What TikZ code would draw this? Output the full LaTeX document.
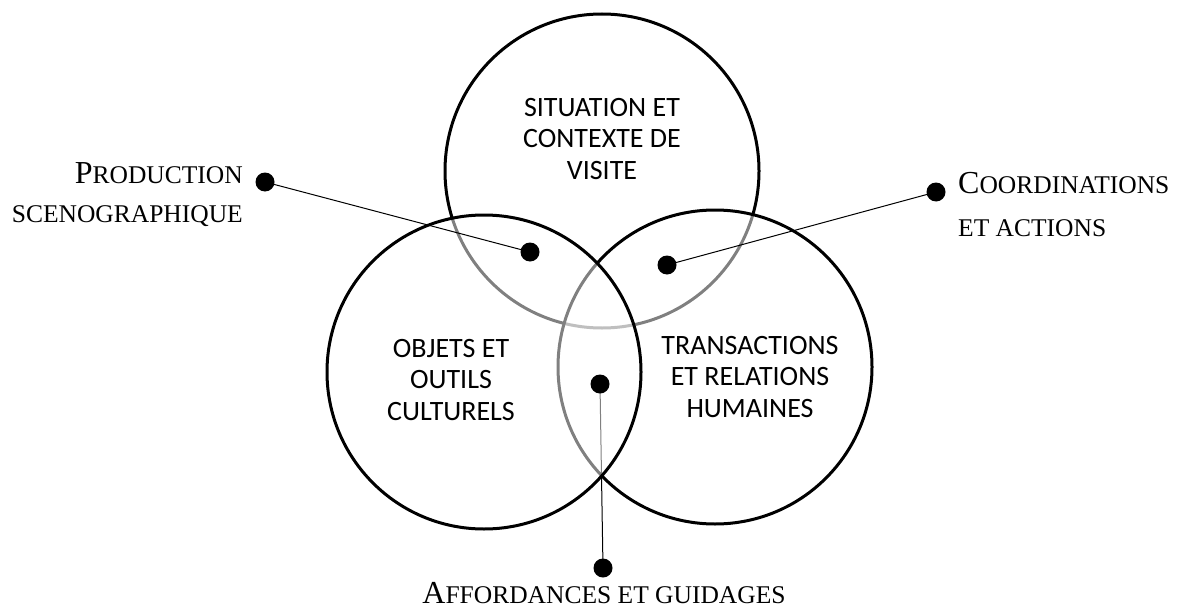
\documentclass[tikz,border=0pt]{standalone}
\usepackage{fontspec}
\setmainfont{Liberation Serif}
\newfontfamily\calib{Carlito}
\newcommand\Sc[2]{{\fontsize{32}{32}\selectfont #1}{\fontsize{25.5}{25.5}\selectfont #2}}
\begin{document}
\begin{tikzpicture}[x=1pt,y=-1pt,
  venn/.style={circle, draw=black, line width=3pt, fill=white, fill opacity=0.5, draw opacity=1, minimum size=314pt, inner sep=0pt},
  circtext/.style={align=center, font=\calib\fontsize{28}{31.5}\selectfont, inner sep=0pt},
  lbl/.style={inner sep=0pt, font=\fontsize{25.5}{39}\selectfont},
  dot/.style={circle, fill=black, minimum size=19pt, inner sep=0pt},
  conn/.style={line width=1pt}]
\useasboundingbox (0,0) rectangle (1183,610);
% connector end points
\coordinate (pi) at (530,252);
\coordinate (po) at (265,182);
\coordinate (ci) at (667,265);
\coordinate (co) at (936,192);
\coordinate (ai) at (600,384);
\coordinate (ao) at (603,568);
% circles
\node[venn] (ctop) at (602,171) {};
\node[venn] (cright) at (715,367) {};
\draw[conn] (ai) -- (ao);
\node[venn] (cleft) at (484,372) {};
% connectors
\draw[conn] (po) -- (pi);
\draw[conn] (co) -- (ci);
% dots
\node[dot] (dpi) at (pi) {};
\node[dot] (dpo) at (po) {};
\node[dot] (dci) at (ci) {};
\node[dot] (dco) at (co) {};
\node[dot] (dai) at (ai) {};
\node[dot] (dao) at (ao) {};
% circle texts
\node[circtext, anchor=base] (ttop) at (602,179) {SITUATION ET\\CONTEXTE DE\\VISITE};
\node[circtext, anchor=base] (tleft) at (451,420) {OBJETS ET\\OUTILS\\CULTURELS};
\node[circtext, anchor=base] (tright) at (750,417) {TRANSACTIONS\\ET RELATIONS\\HUMAINES};
% outer labels
\node[lbl, anchor=base east, align=right] (lprod) at (243,222) {\Sc{P}{RODUCTION}\\\Sc{}{SCENOGRAPHIQUE}};
\node[lbl, anchor=base west, align=left, font=\fontsize{25.5}{43}\selectfont] (lcoord) at (958,236) {\Sc{C}{OORDINATIONS}\\\Sc{}{ET ACTIONS}};
\node[lbl, anchor=base] (laff) at (604,603) {\Sc{A}{FFORDANCES ET GUIDAGES}};
\end{tikzpicture}
\end{document}
